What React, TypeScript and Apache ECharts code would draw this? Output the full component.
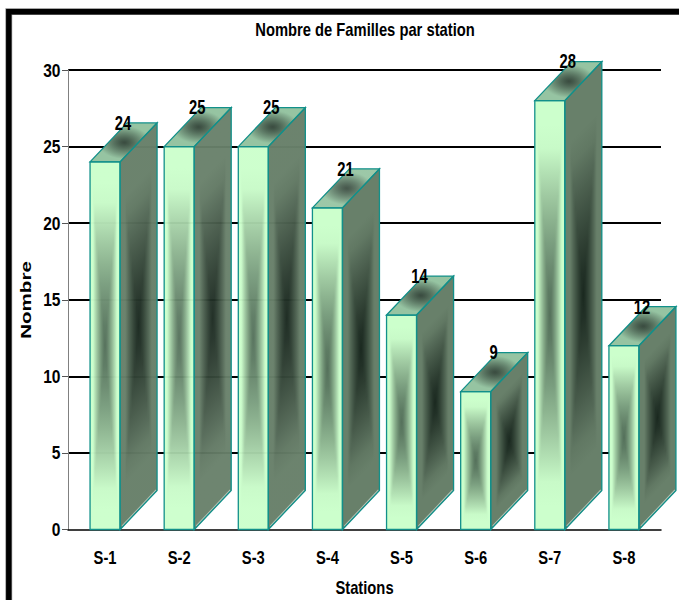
import React, { useEffect, useRef } from "react";
import * as echarts from "echarts";

const stations = ["S-1", "S-2", "S-3", "S-4", "S-5", "S-6", "S-7", "S-8"];
const familles = [24, 25, 25, 21, 14, 9, 28, 12];
const yTicks = [0, 5, 10, 15, 20, 25, 30];

const SANS = '"Liberation Sans", Arial, sans-serif';
const CONDENSE = 0.82;

type RGB = [number, number, number];
const hex = (c: RGB) => `rgb(${c.map((v) => Math.round(v)).join(",")})`;
const mix = (a: RGB, b: RGB, k: number): RGB => [
  a[0] + (b[0] - a[0]) * k,
  a[1] + (b[1] - a[1]) * k,
  a[2] + (b[2] - a[2]) * k,
];

interface Face {
  centre: RGB;
  edge: RGB;
  reach: number;
  power: number;
}

const FRONT: Face = { centre: [84, 112, 90], edge: [204, 255, 204], reach: 0.8, power: 1.3 };
const SIDE: Face = { centre: [26, 40, 31], edge: [104, 128, 106], reach: 0.72, power: 1.2 };
const TOP: Face = { centre: [58, 76, 64], edge: [150, 196, 162], reach: 0.85, power: 1.2 };

const shade = (f: Face, t: number) =>
  mix(f.centre, f.edge, Math.pow(Math.min(1, t / f.reach), f.power));

// Rectangular path gradient: tone follows the larger of the two normalised distances.
const boxTone = (f: Face, a: number, c: number) =>
  shade(f, Math.max(Math.abs(2 * a - 1), Math.abs(2 * c - 1)));

const STOPS = 18;
const gradient = (toneAt: (a: number) => RGB, horizontal: boolean) => {
  const colorStops = [];
  for (let i = 0; i <= STOPS; i++) {
    const a = i / STOPS;
    colorStops.push({ offset: a, color: hex(toneAt(a)) });
  }
  return new echarts.graphic.LinearGradient(0, 0, horizontal ? 1 : 0, horizontal ? 0 : 1, colorStops);
};

const DEPTH_X = 37;
const DEPTH_Y = 39;
const EDGE = "#12908a";

const renderBar = (_: any, api: any) => {
  const idx = api.value(0);
  const val = api.value(1);
  const [cx, yTop] = api.coord([idx, val]);
  const [, yBase] = api.coord([idx, 0]);
  const w = api.size([1, 0])[0] * 0.405;
  const x0 = cx - w / 2;
  const x1 = cx + w / 2;
  const h = yBase - yTop;
  const children: any[] = [];

  for (let i = 0; i < Math.ceil(w); i++) {
    const c = (i + 0.5) / w;
    children.push({
      type: "rect",
      silent: true,
      shape: { x: x0 + i, y: yTop, width: Math.min(1.6, w - i), height: h },
      style: { fill: gradient((a) => boxTone(FRONT, a, c), false) },
    });
  }
  for (let i = 0; i < DEPTH_X; i++) {
    const k0 = i / DEPTH_X;
    const k1 = Math.min(1, (i + 1.6) / DEPTH_X);
    const c = (i + 0.5) / DEPTH_X;
    children.push({
      type: "polygon",
      silent: true,
      shape: {
        points: [
          [x1 + k0 * DEPTH_X, yTop - k0 * DEPTH_Y],
          [x1 + k1 * DEPTH_X, yTop - k1 * DEPTH_Y],
          [x1 + k1 * DEPTH_X, yBase - k1 * DEPTH_Y],
          [x1 + k0 * DEPTH_X, yBase - k0 * DEPTH_Y],
        ],
      },
      style: { fill: gradient((a) => boxTone(SIDE, a, c), false) },
    });
  }
  // The roof's dark spot is an upright ellipse on screen, not sheared with the face.
  for (let i = 0; i < DEPTH_Y; i++) {
    const k0 = i / DEPTH_Y;
    const k1 = Math.min(1, (i + 1.6) / DEPTH_Y);
    const rowY = (i + 0.5) / DEPTH_Y - 0.5;
    const shift = k0 * DEPTH_X - DEPTH_X / 2;
    children.push({
      type: "polygon",
      silent: true,
      shape: {
        points: [
          [x0 + k0 * DEPTH_X, yTop - k0 * DEPTH_Y],
          [x1 + k0 * DEPTH_X, yTop - k0 * DEPTH_Y],
          [x1 + k1 * DEPTH_X, yTop - k1 * DEPTH_Y],
          [x0 + k1 * DEPTH_X, yTop - k1 * DEPTH_Y],
        ],
      },
      style: {
        fill: gradient((a) => {
          const dx = (shift + (a - 0.5) * w) / 30;
          const dy = rowY * 2;
          return shade(TOP, Math.hypot(dx, dy));
        }, true),
      },
    });
  }

  const outline = { fill: "none", stroke: EDGE, lineWidth: 1.3 };
  children.push(
    {
      type: "line",
      silent: true,
      shape: { x1: x1 + 2, y1: yBase - 3.5, x2: x1 + DEPTH_X - 1, y2: yBase - DEPTH_Y - 0.5 },
      style: { stroke: "#b4c4b6", lineWidth: 1.2 },
    },
    { type: "polygon", silent: true, shape: { points: [[x0, yTop], [x1, yTop], [x1, yBase], [x0, yBase]] }, style: outline },
    {
      type: "polygon",
      silent: true,
      shape: { points: [[x1, yTop], [x1 + DEPTH_X, yTop - DEPTH_Y], [x1 + DEPTH_X, yBase - DEPTH_Y], [x1, yBase]] },
      style: outline,
    },
    {
      type: "polygon",
      silent: true,
      shape: { points: [[x0, yTop], [x0 + DEPTH_X, yTop - DEPTH_Y], [x1 + DEPTH_X, yTop - DEPTH_Y], [x1, yTop]] },
      style: outline,
    },
    {
      type: "text",
      silent: true,
      x: cx + 18,
      y: yTop - DEPTH_Y,
      scaleX: 0.74,
      style: {
        x: 0,
        y: 0,
        text: String(val),
        align: "center",
        verticalAlign: "middle",
        font: `bold 20px ${SANS}`,
        fill: "#000",
      },
    },
  );
  return { type: "group", children };
};

const labelText = (text: string, x: number, y: number, align = "center", size = 18) => ({
  type: "text",
  silent: true,
  x,
  y,
  scaleX: CONDENSE,
  style: { x: 0, y: 0, text, align, verticalAlign: "middle", font: `bold ${size}px ${SANS}`, fill: "#000" },
});

// Category names sit a fixed distance under the zero line.
const renderStationLabel = (_: any, api: any) => {
  const [cx, yBase] = api.coord([api.value(0), 0]);
  return labelText(stations[api.value(0)], cx, yBase + 27.5);
};

// Value labels are right-aligned against the tick marks.
const renderTickLabel = (params: any, api: any) => {
  const tick = api.value(1);
  const [, y] = api.coord([0, tick]);
  return labelText(String(tick), params.coordSys.x - 7.5, y, "right", 19);
};

export default function App() {
  const ref = useRef<HTMLDivElement>(null);

  useEffect(() => {
    document.body.style.margin = "0";
    const chart = echarts.init(ref.current!, undefined, { renderer: "svg" });
    chart.setOption({
      animation: false,
      backgroundColor: "#fff",
      grid: { left: 68, right: 18, top: 70, bottom: 70.5, outerBoundsMode: "none" },
      xAxis: {
        type: "category",
        data: stations,
        axisLine: { lineStyle: { color: "#000", width: 1.5 } },
        axisTick: { show: false },
        axisLabel: { show: false },
      },
      yAxis: {
        type: "value",
        min: 0,
        max: 30,
        interval: 5,
        axisLine: { show: true, lineStyle: { color: "#808080", width: 1 } },
        axisTick: { show: true, length: 6, lineStyle: { color: "#555", width: 1 } },
        axisLabel: { show: false },
        splitLine: { show: true, showMinLine: false, lineStyle: { color: "#000", width: 2 } },
      },
      graphic: [
        {
          type: "rect",
          silent: true,
          shape: { x: 8.8, y: 11.7, width: 800, height: 800 },
          style: { fill: "none", stroke: "#8a8a8a", lineWidth: 6.8 },
        },
        {
          type: "rect",
          silent: true,
          shape: { x: 8.8, y: 11.7, width: 800, height: 800 },
          style: { fill: "none", stroke: "#000", lineWidth: 5.4 },
        },
        labelText("Nombre de Familles par station", 365, 29.5),
        labelText("Stations", 364.5, 587.5),
        {
          type: "text",
          silent: true,
          x: 26,
          y: 300,
          rotation: Math.PI / 2,
          scaleX: 1.37,
          style: {
            x: 0,
            y: 0,
            text: "Nombre",
            font: `bold 15px ${SANS}`,
            align: "center",
            verticalAlign: "middle",
            fill: "#000",
          },
        },
      ],
      series: [
        {
          type: "custom",
          renderItem: renderBar,
          encode: { x: 0, y: 1 },
          data: stations.map((_, i) => [i, familles[i]]),
        },
        {
          type: "custom",
          renderItem: renderStationLabel,
          encode: { x: 0 },
          data: stations.map((_, i) => [i, 0]),
        },
        {
          type: "custom",
          renderItem: renderTickLabel,
          encode: { y: 1 },
          data: yTicks.map((t) => [0, t]),
        },
      ],
    });
    return () => chart.dispose();
  }, []);

  return <div ref={ref} style={{ width: 679, height: 600 }} />;
}
